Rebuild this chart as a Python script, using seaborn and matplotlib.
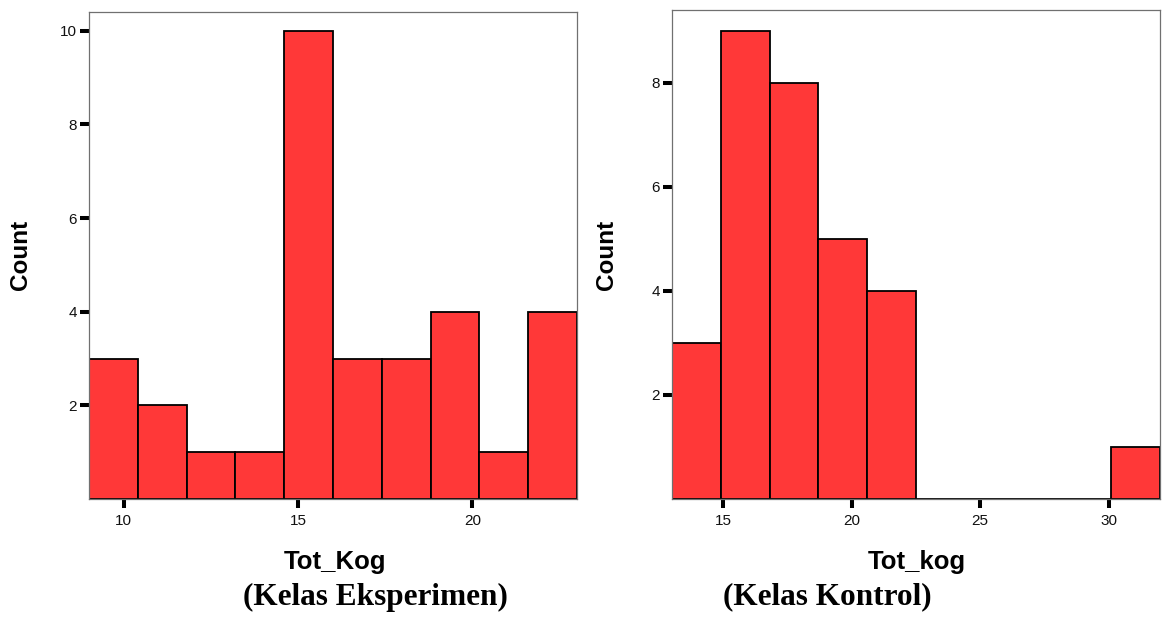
import numpy as np
import pandas as pd
import matplotlib
matplotlib.use("Agg")
import matplotlib.pyplot as plt
from matplotlib import font_manager as fm
import seaborn as sns

# ---- data ----
eks_edges = [9.0, 10.4, 11.8, 13.2, 14.6, 16.0, 17.4, 18.8, 20.2, 21.6, 23.0]
eks_counts = [3, 2, 1, 1, 10, 3, 3, 4, 1, 4]
eks_xticks = [10, 15, 20]
eks_yticks = [2, 4, 6, 8, 10]

kon_edges = [13.0, 14.9, 16.8, 18.7, 20.6, 22.5, 24.4, 26.3, 28.2, 30.1, 32.0]
kon_counts = [3, 9, 8, 5, 4, 0, 0, 0, 0, 1]
kon_xticks = [15, 20, 25, 30]
kon_yticks = [2, 4, 6, 8]

sns.set_style("white")
plt.rcParams['font.family'] = ['Liberation Sans', 'DejaVu Sans']
plt.rcParams['text.color'] = 'black'


def find_font(name, bold):
    for f in fm.fontManager.ttflist:
        fn = f.fname.lower()
        if f.name == name and 'narrow' not in fn:
            isbold = 'bold' in fn
            isital = 'italic' in fn
            if isbold == bold and not isital:
                return fm.FontProperties(fname=f.fname)
    return fm.FontProperties(family=['DejaVu Sans'], weight='bold' if bold else 'normal')


sans_reg = find_font('Liberation Sans', False)
sans_bold = find_font('Liberation Sans', True)
serif_bold = find_font('Liberation Serif', True)

BAR = '#FF3838'

fig = plt.figure(figsize=(11.68, 6.17), dpi=100)
ax1 = fig.add_axes([89/1168, 1-499/617, 488/1168, 487/617])
ax2 = fig.add_axes([672/1168, 1-499/617, 488/1168, 489/617])


def draw(ax, edges, counts, xticks, yticks, ytop):
    e = np.array(edges)
    centers = (e[:-1] + e[1:]) / 2
    df = pd.DataFrame({"x": centers, "w": counts})
    sns.histplot(data=df, x="x", weights="w", bins=edges, color=BAR, alpha=1,
                 edgecolor='black', linewidth=1.3, ax=ax)
    ax.set_xlim(edges[0], edges[-1])
    ax.set_ylim(0, ytop)
    ax.set_xticks(xticks)
    ax.set_xticklabels([str(t) for t in xticks])
    ax.set_yticks(yticks)
    ax.set_yticklabels([str(t) for t in yticks])
    ax.set_xlabel("")
    ax.set_ylabel("")
    ax.tick_params(axis='both', which='major', direction='out', length=6.5,
                   width=2.9, color='black', labelcolor='#111111',
                   bottom=True, left=True, top=False, right=False)
    ax.tick_params(axis='x', pad=4)
    ax.tick_params(axis='y', pad=2)
    for lab in ax.get_xticklabels() + ax.get_yticklabels():
        lab.set_fontproperties(sans_reg)
        lab.set_fontsize(11)
    for s in ax.spines.values():
        s.set_visible(True)
        s.set_color('#707070')
        s.set_linewidth(0.9)
    ax.set_facecolor('white')


draw(ax1, eks_edges, eks_counts, eks_xticks, eks_yticks, 10.4)
draw(ax2, kon_edges, kon_counts, kon_xticks, kon_yticks, 9.4)

fig.text(20/1168, 1-255/617, "Count", rotation=90, ha='center', va='center',
         fontproperties=sans_bold, fontsize=17.5, color='black')
fig.text(607/1168, 1-255/617, "Count", rotation=90, ha='center', va='center',
         fontproperties=sans_bold, fontsize=17.5, color='black')
fig.text(335/1168, 1-562/617, "Tot_Kog", ha='center', va='center',
         fontproperties=sans_bold, fontsize=18.5, color='black')
fig.text(917/1168, 1-562/617, "Tot_kog", ha='center', va='center',
         fontproperties=sans_bold, fontsize=18.5, color='black')
fig.text(375/1168, 1-597/617, "(Kelas Eksperimen)", ha='center', va='center',
         fontproperties=serif_bold, fontsize=22.5, color='black')
fig.text(827/1168, 1-597/617, "(Kelas Kontrol)", ha='center', va='center',
         fontproperties=serif_bold, fontsize=22.5, color='black')

fig.savefig("out.png", dpi=100, facecolor='white')
